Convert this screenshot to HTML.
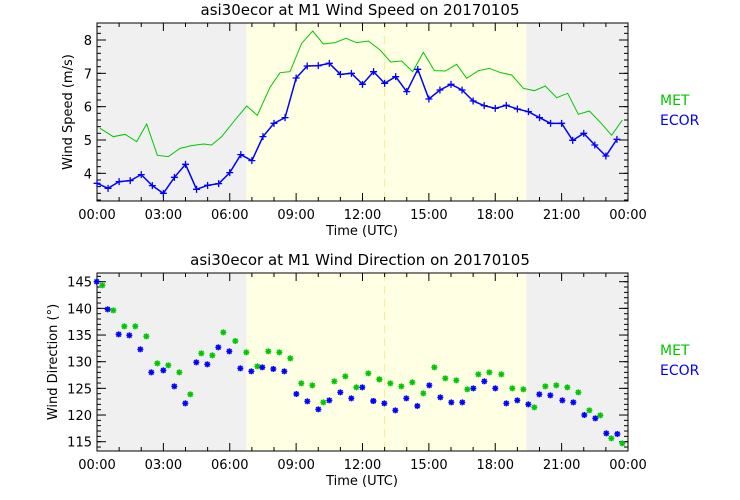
<!DOCTYPE html>
<html><head><meta charset="utf-8"><style>
html,body{margin:0;padding:0;background:#fff;}
svg{display:block;font-family:"DejaVu Sans","Liberation Sans",sans-serif;}
</style></head><body>
<svg id="s" width="740" height="500" xmlns="http://www.w3.org/2000/svg">
<defs>
<g id="stb" stroke="#0000ff" stroke-width="1.5"><line x1="-3" y1="0" x2="3" y2="0"/><line x1="0" y1="-3" x2="0" y2="3"/><line x1="-2.2" y1="-2.2" x2="2.2" y2="2.2"/><line x1="-2.2" y1="2.2" x2="2.2" y2="-2.2"/></g>
<g id="stg" stroke="#00c800" stroke-width="1.5"><line x1="-3" y1="0" x2="3" y2="0"/><line x1="0" y1="-3" x2="0" y2="3"/><line x1="-2.2" y1="-2.2" x2="2.2" y2="2.2"/><line x1="-2.2" y1="2.2" x2="2.2" y2="-2.2"/></g>
</defs>
</svg>
<script>
var s=document.getElementById('s'),h='';
var L=97,R=628;
function X(hr){return L+hr*(R-L)/24;}
function panel(T,B,title,ylab,ylx,ticks,yf,minor,mstep){
 h+='<rect x="'+L+'" y="'+T+'" width="'+(X(6.75)-L)+'" height="'+(B-T)+'" fill="#f0f0f0"/>';
 h+='<rect x="'+X(6.75)+'" y="'+T+'" width="'+(X(19.4)-X(6.75))+'" height="'+(B-T)+'" fill="#ffffe4"/>';
 h+='<rect x="'+X(19.4)+'" y="'+T+'" width="'+(R-X(19.4))+'" height="'+(B-T)+'" fill="#f0f0f0"/>';
 h+='<line x1="'+X(13)+'" y1="'+T+'" x2="'+X(13)+'" y2="'+B+'" stroke="#f4ec90" stroke-dasharray="8,5"/>';
 h+='<rect x="'+L+'" y="'+T+'" width="'+(R-L)+'" height="'+(B-T)+'" fill="none" stroke="#000"/>';
 for(var i=0;i<=8;i++){var x=X(i*3);h+='<line x1="'+x+'" y1="'+B+'" x2="'+x+'" y2="'+(B-8)+'" stroke="#000"/><line x1="'+x+'" y1="'+T+'" x2="'+x+'" y2="'+(T+8)+'" stroke="#000"/>';
  var lab=('0'+((i*3)%24)).slice(-2)+':00';h+='<text x="'+x+'" y="'+(B+18)+'" font-size="13" text-anchor="middle">'+lab+'</text>';}
 for(var i=0;i<=24;i++){if(i%3==0)continue;var x=X(i);h+='<line x1="'+x+'" y1="'+B+'" x2="'+x+'" y2="'+(B-4)+'" stroke="#000"/><line x1="'+x+'" y1="'+T+'" x2="'+x+'" y2="'+(T+4)+'" stroke="#000"/>';}
 for(var v=minor[0];v<=minor[1]+1e-6;v+=mstep){var y=yf(v);if(y<T||y>B)continue;h+='<line x1="'+L+'" y1="'+y+'" x2="'+(L+4)+'" y2="'+y+'" stroke="#000"/><line x1="'+R+'" y1="'+y+'" x2="'+(R-4)+'" y2="'+y+'" stroke="#000"/>';}
 ticks.forEach(function(v){var y=yf(v);h+='<line x1="'+L+'" y1="'+y+'" x2="'+(L+9)+'" y2="'+y+'" stroke="#000"/><line x1="'+R+'" y1="'+y+'" x2="'+(R-9)+'" y2="'+y+'" stroke="#000"/><text x="'+(L-5)+'" y="'+(y+5)+'" font-size="13" text-anchor="end">'+v+'</text>';});
 h+='<text x="360" y="'+(T-8)+'" font-size="15" text-anchor="middle">'+title+'</text>';
 h+='<text x="362" y="'+(B+34)+'" font-size="13" text-anchor="middle">Time (UTC)</text>';
 var cy=(T+B)/2;h+='<text transform="translate('+ylx+','+cy+') rotate(-90)" font-size="13" text-anchor="middle">'+ylab+'</text>';
}
var fy1=function(v){return 40+(8-v)*33.33;};
var fy2=function(d){return 281.7+(145-d)*5.333;};
panel(23,201,'asi30ecor at M1 Wind Speed on 20170105','Wind Speed (m/s)',72,[4,5,6,7,8],fy1,[3.2,8.4],0.2);
panel(273,451,'asi30ecor at M1 Wind Direction on 20170105','Wind Direction (°)',57,[115,120,125,130,135,140,145],fy2,[114,146],1);
var m1=[[180,385],[220,410],[255,403],[290,425],[320,372],[352,466],[385,470],[420,445],[455,437],[490,432],[515,435],[545,410],[585,360],[620,318],[652,346],[690,262],[720,218],[750,215],[785,130],[818,93],[850,132],[885,128],[918,115],[950,128],[985,123]];
var m2=[[30,150],[62,186],[95,183],[128,215],[160,157],[193,212],[226,213],[260,193],[290,235],[325,212],[358,205],[392,218],[425,225],[460,265],[493,272],[526,258],[560,293],[593,280],[625,343],[658,333],[692,368],[725,406],[757,360]];
var pts=m1.map(function(p){return [p[0]/3+40,p[1]/3];}).concat(m2.map(function(p){return [p[0]/3+370,p[1]/3];}));
h+='<polyline fill="none" stroke="#00c800" stroke-width="1" points="'+pts.map(function(p){return p.join(',');}).join(' ')+'"/>';
var ev=[3.7,3.55,3.75,3.78,3.96,3.63,3.4,3.88,4.27,3.52,3.64,3.69,4.02,4.56,4.38,5.1,5.5,5.67,6.86,7.22,7.23,7.3,6.97,7.0,6.67,7.05,6.7,6.9,6.45,7.12,6.23,6.5,6.67,6.5,6.17,6.03,5.95,6.04,5.93,5.85,5.67,5.5,5.5,4.99,5.2,4.85,4.52,5.02];
var ep=ev.map(function(v,i){return [X(i*0.5),fy1(v)];});
h+='<polyline fill="none" stroke="#0000ff" stroke-width="1.5" points="'+ep.map(function(p){return p.join(',');}).join(' ')+'"/>';
ep.forEach(function(p){h+='<path d="M'+(p[0]-3.5)+' '+p[1]+'h7M'+p[0]+' '+(p[1]-3.5)+'v7" stroke="#0000ff" stroke-width="1.3"/>';});
var b1=[[170,95],[203,178],[236,253],[268,256],[301,298],[334,367],[370,361],[403,409],[436,460],[469,337],[502,343],[535,292],[568,304],[601,355],[634,364],[667,352],[700,357],[733,364],[769,432],[802,454],[835,478],[868,451],[901,427],[934,445],[967,412],[1000,453]];
var g1=[[187,106],[220,181],[253,229],[286,229],[319,259],[352,340],[385,346],[418,367],[451,433],[484,310],[517,316],[550,247],[586,273],[619,307],[652,349],[685,304],[718,307],[751,325],[784,400],[817,406],[850,457],[883,394],[916,379],[949,412],[985,370],[1018,388]];
var b2=[[10,453],[43,460],[76,481],[109,445],[142,468],[178,406],[211,442],[244,457],[277,457],[310,415],[343,394],[376,415],[409,460],[442,451],[475,463],[508,433],[541,436],[577,451],[610,457],[643,495],[676,505],[709,550],[742,552]];
var g2=[[28,388],[61,400],[94,409],[127,397],[160,430],[193,352],[226,385],[259,391],[292,418],[325,373],[358,367],[394,373],[427,415],[460,418],[493,472],[526,409],[559,406],[592,412],[625,427],[658,481],[691,496],[724,565],[757,580]];
function st(arr,ox,id){arr.forEach(function(p){h+='<use href="#'+id+'" x="'+(p[0]/3+ox)+'" y="'+(p[1]/3+250)+'"/>';});}
st(g1,40,'stg');st(g2,370,'stg');st(b1,40,'stb');st(b2,370,'stb');
h+='<text x="660" y="105" font-size="14" fill="#00c800">MET</text><text x="660" y="125" font-size="14" fill="#0000ff">ECOR</text>';
h+='<text x="660" y="355" font-size="14" fill="#00c800">MET</text><text x="660" y="375" font-size="14" fill="#0000ff">ECOR</text>';
s.insertAdjacentHTML('beforeend',h);
</script>
</body></html>
